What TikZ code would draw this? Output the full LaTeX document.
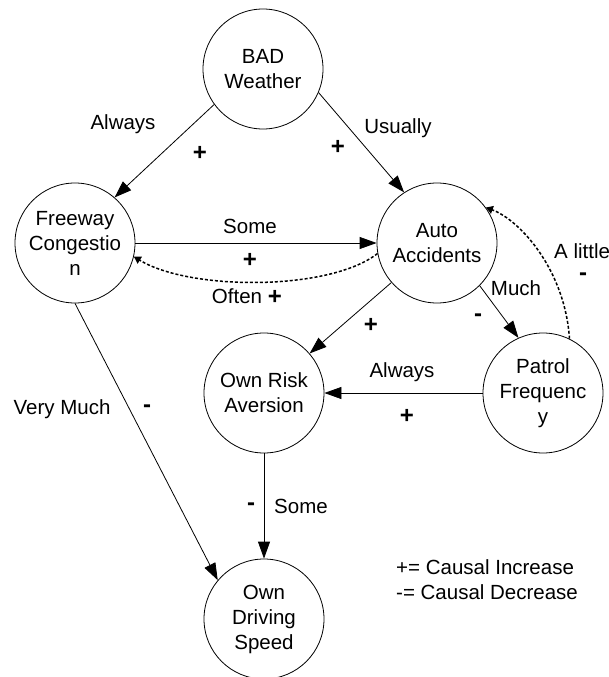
\documentclass[tikz,border=0pt]{standalone}
\usepackage{fontspec}
\setmainfont{Liberation Sans}
\usetikzlibrary{arrows.meta}
\begin{document}
\begin{tikzpicture}[x=1pt,y=-1pt,
  every node/.style={font=\fontsize{20.5}{25}\selectfont},
  var/.style={draw,circle,minimum size=120pt,inner sep=0pt,align=center,line width=0.8pt},
  arr/.style={line width=0.8pt,-{Triangle[length=17pt,width=12pt]}},
  dotarr/.style={line width=1.5pt,dash pattern=on 3pt off 2pt,-{Triangle[length=7pt,width=8pt]}},
  sgn/.style={font=\fontsize{24}{25}\selectfont\bfseries,inner sep=0pt},
  lbl/.style={inner sep=0pt}]
\useasboundingbox (0,0) rectangle (609,677);
\node[var] (W) at (263,69) {BAD\\Weather};
\node[var] (F) at (75,243) {Freeway\\Congestio\\n};
\node[var] (A) at (437,243) {Auto\\Accidents};
\node[var] (O) at (264,393) {Own Risk\\Aversion};
\node[var] (P) at (543,393) {Patrol\\Frequenc\\y};
\node[var] (D) at (264,619) {Own\\Driving\\Speed};

\draw[arr] (W.216) -- (F.49);
\draw[arr] (W.-23) -- (A.123);
\draw[arr] (F) -- (A);
\draw[dotarr] (A.190) .. controls (330,291) and (190,291) .. (F.-13);
\draw[arr] (A.-45) -- (P.114);
\draw[dotarr] (P.64) .. controls (565,270) and (520,220) .. (A.36);
\draw[arr] (A) -- (O);
\draw[arr] (P) -- (O);
\draw[arr] (O) -- (D);
\draw[arr] (F.south) -- (D.140);

\node[lbl] (l1) at (123,124) {Always};
\node[sgn] (s1) at (200,153) {+};
\node[lbl] (l2) at (398,128) {Usually};
\node[sgn] (s2) at (338,147) {+};
\node[lbl] (l3) at (250,226) {Some};
\node[sgn] (s3) at (250,260) {+};
\node[lbl] (l4) at (237,296) {Often};
\node[sgn] (s4) at (275,297) {+};
\node[lbl,anchor=west] (l5) at (554,251) {A little};
\node[sgn] (s5) at (583,277) {-};
\node[lbl] (l6) at (516,288) {Much};
\node[sgn] (s6) at (478,318) {-};
\node[sgn] (s7) at (371,325) {+};
\node[lbl] (l8) at (402,372) {Always};
\node[sgn] (s8) at (407,416) {+};
\node[lbl] (l9) at (62,409) {Very Much};
\node[sgn] (s9) at (147,409) {-};
\node[sgn] (s10) at (251,507) {-};
\node[lbl] (l10) at (301,506) {Some};
\node[lbl,anchor=west,align=left] (leg) at (396,580) {+= Causal Increase\\-= Causal Decrease};
\end{tikzpicture}
\end{document}
